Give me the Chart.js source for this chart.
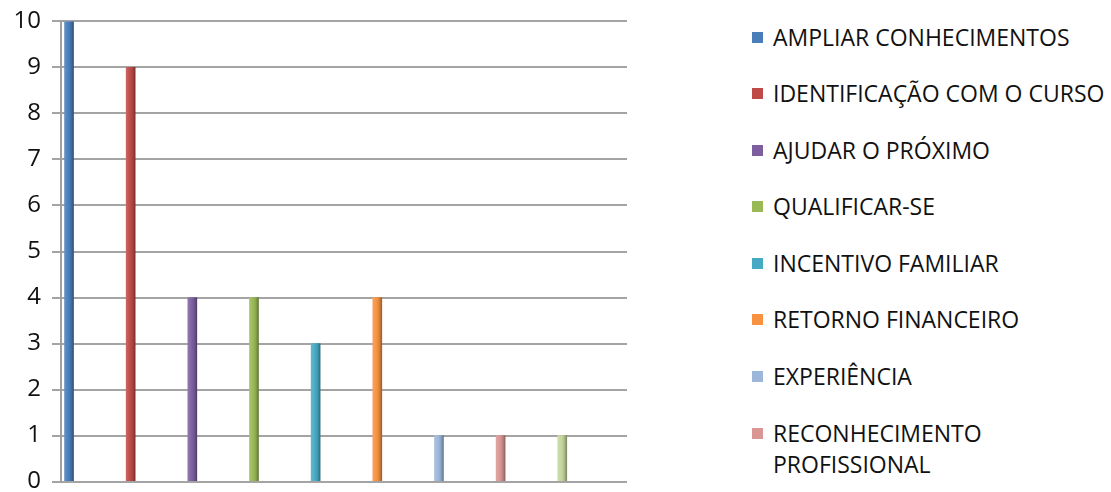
<!DOCTYPE html>
<html>
<head>
<meta charset="utf-8">
<script src="https://cdn.jsdelivr.net/npm/chart.js@4.4.1/dist/chart.umd.min.js"></script>
<style>
  html, body { margin: 0; padding: 0; background: #fff; overflow: hidden; }
  #wrap { position: absolute; left: 0; top: -4px; width: 640px; height: 511px; }
  #legend { position: absolute; left: 752px; top: 0; font-family: "Open Sans", sans-serif; font-size: 23px; color: #111; }
  .item { position: absolute; left: 0; white-space: nowrap; }
  .box { position: absolute; left: 0; width: 11px; height: 11px; }
  .txt { position: absolute; left: 21px; line-height: 31px; }
</style>
</head>
<body>
<div id="wrap"><canvas id="chart"></canvas></div>
<div id="legend"></div>
<script>
const ctx = document.getElementById('chart');

// data
const categories = ['AMPLIAR CONHECIMENTOS', 'IDENTIFICAÇÃO COM O CURSO', 'AJUDAR O PRÓXIMO',
  'QUALIFICAR-SE', 'INCENTIVO FAMILIAR', 'RETORNO FINANCEIRO', 'EXPERIÊNCIA',
  'RECONHECIMENTO PROFISSIONAL', 'OUTROS'];
const values = [10, 9, 4, 4, 3, 4, 1, 1, 1];
const colors = ['#4a7ebb', '#be4b48', '#7d5fa0', '#98b954', '#46aac5', '#f69240', '#9db7da', '#d99694', '#c3d69b'];
const yTicks = [0, 1, 2, 3, 4, 5, 6, 7, 8, 9, 10];

function shade(hex, f) {
  let r = parseInt(hex.slice(1, 3), 16), g = parseInt(hex.slice(3, 5), 16), b = parseInt(hex.slice(5, 7), 16);
  if (f < 0) { r *= 1 + f; g *= 1 + f; b *= 1 + f; }
  else { r += (255 - r) * f; g += (255 - g) * f; b += (255 - b) * f; }
  return 'rgb(' + Math.round(r) + ',' + Math.round(g) + ',' + Math.round(b) + ')';
}

function barFill(c, i) {
  const chart = c.chart;
  const sx = chart.scales && chart.scales.x;
  const x = sx ? sx.getPixelForValue(i) : NaN;
  if (!Number.isFinite(x)) return colors[i];
  const g = chart.ctx.createLinearGradient(x - 4.5, 0, x + 4.5, 0);
  g.addColorStop(0, shade(colors[i], 0.15));
  g.addColorStop(0.45, colors[i]);
  g.addColorStop(0.7, shade(colors[i], -0.1));
  g.addColorStop(1, shade(colors[i], -0.35));
  return g;
}

const datasets = categories.map((name, i) => ({
  label: name,
  data: [{ x: i, y: values[i] }],
  backgroundColor: (c) => barFill(c, i),
  borderWidth: 0,
  barThickness: 9,
  grouped: false
}));

new Chart(ctx, {
  type: 'bar',
  data: { datasets: datasets },
  options: {
    responsive: true,
    maintainAspectRatio: false,
    animation: false,
    layout: { padding: { top: 5, right: 13, left: 0, bottom: 0 } },
    plugins: { legend: { display: false }, tooltip: { enabled: false } },
    scales: {
      x: { type: 'linear', min: -0.13, max: 9.05, offset: false, display: false },
      y: {
        min: 0, max: 10,
        afterFit: (s) => { s.width = 61; },
        afterBuildTicks: (s) => { s.ticks = yTicks.map(v => ({ value: v })); },
        border: { display: true, color: '#a0a0a0', width: 2 },
        grid: { color: '#a4a4a4', lineWidth: 2, tickLength: 9 },
        ticks: { color: '#111', padding: 11, font: { family: 'Open Sans', size: 24 } }
      }
    }
  }
});

// legend (last entry is cut off in the picture)
const legendTops = [22, 78, 135, 191, 248, 304, 361, 418];
const legend = document.getElementById('legend');
legendTops.forEach((top, i) => {
  const item = document.createElement('div');
  item.className = 'item';
  item.style.top = top + 'px';
  const box = document.createElement('div');
  box.className = 'box';
  box.style.top = '10px';
  box.style.background = colors[i];
  const txt = document.createElement('div');
  txt.className = 'txt';
  txt.style.top = '0px';
  txt.innerHTML = categories[i] === 'RECONHECIMENTO PROFISSIONAL' ? 'RECONHECIMENTO<br>PROFISSIONAL' : categories[i];
  item.appendChild(box);
  item.appendChild(txt);
  legend.appendChild(item);
});
</script>
</body>
</html>
